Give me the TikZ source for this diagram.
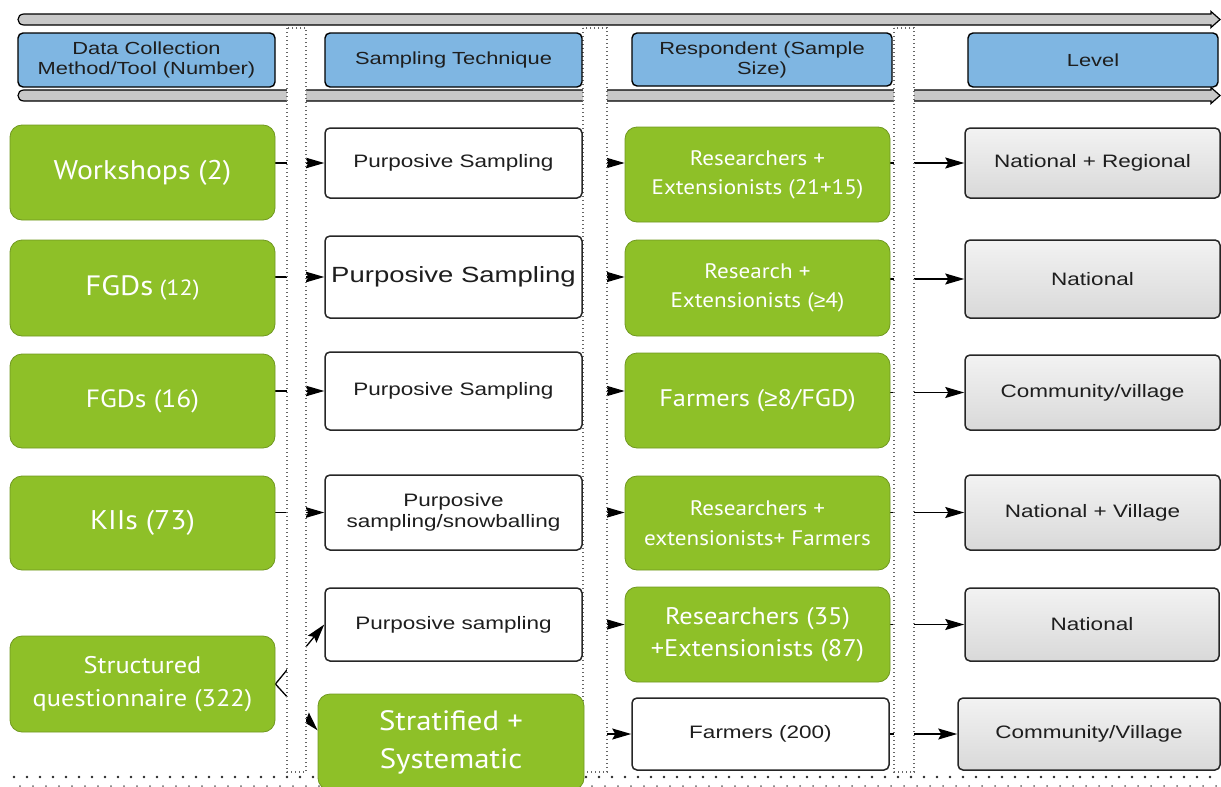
\documentclass[tikz,border=0pt]{standalone}
\usepackage{fontspec}
\setmainfont{Liberation Sans}
\newfontfamily\arialw{Liberation Sans}[FakeStretch=1.25]
\newfontfamily\greenf{PT Sans}[FakeStretch=1.1]
\newfontfamily\gefont{Liberation Sans}
\usetikzlibrary{arrows.meta}
\definecolor{leaf}{RGB}{142,192,40}
\definecolor{leafdark}{RGB}{112,152,32}
\definecolor{hdrblue}{RGB}{127,182,226}
\definecolor{inktext}{RGB}{30,30,30}
\definecolor{barfill}{RGB}{200,200,200}
\pgfdeclarelayer{bg}
\pgfdeclarelayer{mid}
\pgfsetlayers{bg,mid,main}
\newcommand\fsz[2]{\fontsize{#1}{#2}\selectfont}
\newcommand\atleast{{\gefont ≥}}
\tikzset{
  hdr/.style={draw=black, line width=1.4pt, rounded corners=5pt, fill=hdrblue,
    text=inktext, align=center, inner sep=0pt, font=\arialw\fsz{17.5}{20}},
  leafbox/.style={draw=leafdark, line width=0.8pt, rounded corners=12pt, fill=leaf,
    text=white, align=center, inner sep=0pt, font=\greenf},
  plainbox/.style={draw=black!85, line width=1.5pt, rounded corners=5pt, fill=white,
    text=inktext, align=center, inner sep=0pt, font=\arialw\fsz{18}{21}},
  levelbox/.style={plainbox, top color=black!5, bottom color=black!15},
  conn/.style={draw=black, line width=1.3pt, -{Stealth[length=19pt,width=11pt,inset=3pt]}},
  lane/.style={draw=black!60, fill=white, line width=1.3pt, dash pattern=on 1.2pt off 2.8pt},
  dotrow/.style={draw=black!85, line width=2.6pt, line cap=round, dash pattern=on 0pt off 13pt}
}
\begin{document}
\begin{tikzpicture}[x=1pt,y=-1pt]
\useasboundingbox (0,0) rectangle (1221,787);

% column headers
\node[hdr, minimum width=257pt, minimum height=54pt] (h1) at (146.5,60) {Data Collection\\Method/Tool (Number)};
\node[hdr, minimum width=257pt, minimum height=54pt] (h2) at (453.5,60) {Sampling Technique};
\node[hdr, minimum width=260pt, minimum height=53pt] (h3) at (762,59.5) {Respondent (Sample\\Size)};
\node[hdr, minimum width=250pt, minimum height=54pt] (h4) at (1093,60) {Level};

% data collection methods
\node[leafbox, minimum width=265pt, minimum height=95pt, font=\greenf\fsz{27}{32}] (g1) at (142.5,172.5) {Workshops (2)};
\node[leafbox, minimum width=265pt, minimum height=96pt] (g2) at (142.5,288) {{\fsz{28}{32}FGDs}{\fsz{22}{26} (12)}};
\node[leafbox, minimum width=265pt, minimum height=94pt, font=\greenf\fsz{25}{30}] (g3) at (142.5,401) {FGDs (16)};
\node[leafbox, minimum width=265pt, minimum height=94pt, font=\greenf\fsz{27}{32}] (g4) at (142.5,523) {KIIs (73)};
\node[leafbox, minimum width=265pt, minimum height=96pt, font=\greenf\fsz{24}{33}] (g6) at (142.5,684) {Structured\\questionnaire (322)};

% sampling techniques
\node[plainbox, minimum width=257pt, minimum height=70pt] (s1) at (453.5,163) {Purposive Sampling};
\node[plainbox, minimum width=257pt, minimum height=82pt, font=\arialw\fsz{22}{26}] (s2) at (453.5,277) {Purposive Sampling};
\node[plainbox, minimum width=257pt, minimum height=78pt] (s3) at (453.5,391) {Purposive Sampling};
\node[plainbox, minimum width=257pt, minimum height=75pt] (s4) at (453.5,512.5) {Purposive\\sampling/snowballing};
\node[plainbox, minimum width=257pt, minimum height=73pt] (s5) at (453.5,624.5) {Purposive sampling};
\node[leafbox, minimum width=266pt, minimum height=96pt, font=\greenf\fsz{28}{38}] (s6) at (451,742) {Stratified +\\Systematic};

% respondents
\node[leafbox, minimum width=265pt, minimum height=95pt, font=\greenf\fsz{21}{29}] (r1) at (757.5,174.5) {Researchers +\\Extensionists (21+15)};
\node[leafbox, minimum width=265pt, minimum height=96pt, font=\greenf\fsz{21}{29}] (r2) at (757.5,288) {Research +\\Extensionists (\atleast4)};
\node[leafbox, minimum width=265pt, minimum height=95pt, font=\greenf\fsz{24}{30}] (r3) at (757.5,400.5) {Farmers (\atleast8/FGD)};
\node[leafbox, minimum width=265pt, minimum height=94pt, font=\greenf\fsz{21}{30}] (r4) at (757.5,523) {Researchers +\\extensionists+ Farmers};
\node[leafbox, minimum width=265pt, minimum height=95pt, font=\greenf\fsz{24}{32}] (r5) at (757.5,634.5) {Researchers (35)\\+Extensionists (87)};
\node[plainbox, minimum width=257pt, minimum height=72pt] (r6) at (760.5,734) {Farmers (200)};

% levels
\node[levelbox, minimum width=255pt, minimum height=70pt] (l1) at (1092.5,163) {National + Regional};
\node[levelbox, minimum width=255pt, minimum height=78pt] (l2) at (1092.5,279) {National};
\node[levelbox, minimum width=255pt, minimum height=75pt] (l3) at (1092.5,392.5) {Community/village};
\node[levelbox, minimum width=255pt, minimum height=75pt] (l4) at (1092.5,512.5) {National + Village};
\node[levelbox, minimum width=254pt, minimum height=73pt] (l5) at (1092,624.5) {National};
\node[levelbox, minimum width=262pt, minimum height=72pt] (l6) at (1089,734) {Community/Village};

\begin{pgfonlayer}{bg}
  % flow bars above and below the headers
  \filldraw[fill=barfill, draw=black, line width=1.2pt]
    (24,14) -- (1211,14) -- (1211,11.5) -- (1220,19.5) -- (1211,27.5) -- (1211,25) -- (24,25)
    .. controls (16,25) and (16,14) .. (24,14) -- cycle;
  \filldraw[fill=barfill, draw=black, line width=1.2pt]
    (24,90) -- (1211,90) -- (1211,87.5) -- (1220,95.5) -- (1211,103.5) -- (1211,101) -- (24,101)
    .. controls (16,101) and (16,90) .. (24,90) -- cycle;

  % connectors
  \draw[conn] (g1.east |- s1.west) -- (s1.west);
  \draw[conn] (s1.east) -- (s1.east -| r1.west);
  \draw[conn] (r1.east |- l1.west) -- (l1.west);
  \draw[conn] (g2.east |- s2.west) -- (s2.west);
  \draw[conn] (s2.east) -- (s2.east -| r2.west);
  \draw[conn] (r2.east |- l2.west) -- (l2.west);
  \draw[conn] (g3.east |- s3.west) -- (s3.west);
  \draw[conn] (s3.east) -- (s3.east -| r3.west);
  \draw[conn] (r3.east |- l3.west) -- (l3.west);
  \draw[conn] (g4.east |- s4.west) -- (s4.west);
  \draw[conn] (s4.east) -- (s4.east -| r4.west);
  \draw[conn] (r4.east |- l4.west) -- (l4.west);
  \draw[conn] (g6.east) -- (s5.west);
  \draw[conn] (s5.east) -- (s5.east -| r5.west);
  \draw[conn] (r5.east |- l5.west) -- (l5.west);
  \draw[conn] (g6.east) -- (s6.175);
  \draw[conn] (s6.east |- r6.west) -- (r6.west);
  \draw[conn] (r6.east) -- (l6.west);
\end{pgfonlayer}

\begin{pgfonlayer}{mid}
  % dotted lanes between the columns
  \filldraw[lane] (287,28) rectangle (306,772);
  \filldraw[lane] (583,28) rectangle (607,772);
  \filldraw[lane] (894,28) rectangle (914,772);
  % dotted base line
  \draw[dotrow] (14,777) -- (1221,777);
  \draw[dotrow, line width=2pt, draw=black!60] (20,786) -- (1221,786);
\end{pgfonlayer}
\end{tikzpicture}
\end{document}
